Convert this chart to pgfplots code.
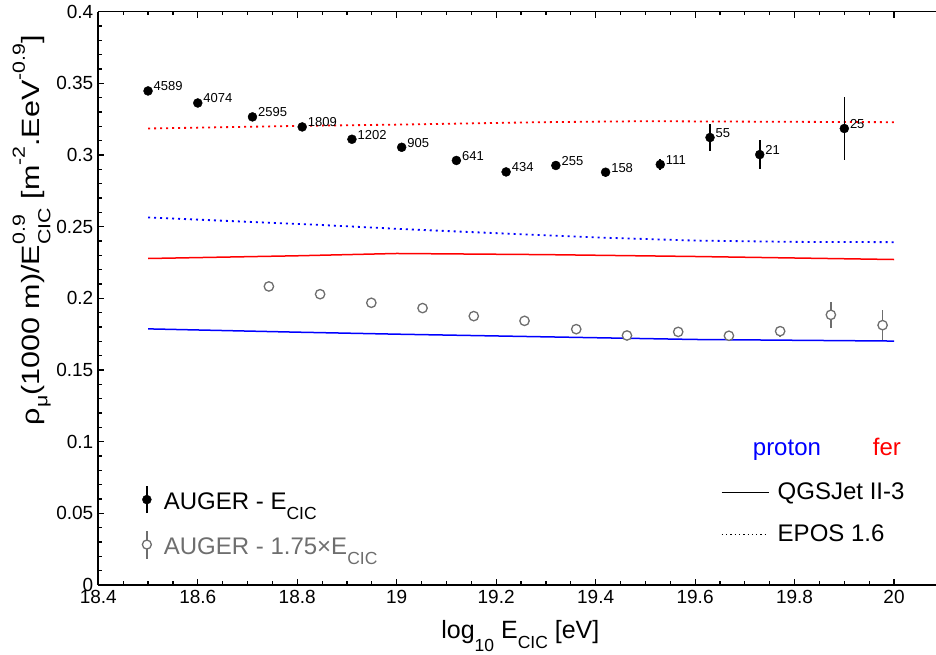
\documentclass[border=0pt]{standalone}
\usepackage{pgfplots}
\pgfplotsset{compat=1.18}
\usepackage{fontspec}
\setmainfont{Liberation Sans}
\definecolor{rblue}{rgb}{0,0,1}
\definecolor{rred}{rgb}{1,0,0}
\definecolor{agrey}{rgb}{0.43,0.43,0.43}
\newcommand{\rsub}[2][0.42em]{\raisebox{-#1}{\fontsize{17.5}{17.5}\selectfont #2}}
\newcommand{\rsup}[1]{\raisebox{0.6em}{\fontsize{17.5}{17.5}\selectfont #1}}
\newcommand{\rsupsub}[2]{\rlap{\rsup{#1}}\rsub{#2}}

\pgfplotstableread{
x y e n
18.50 0.3447 0.0012 4589
18.60 0.3363 0.0012 4074
18.71 0.3266 0.0014 2595
18.81 0.3196 0.0016 1809
18.91 0.3110 0.0018 1202
19.01 0.3054 0.0020 905
19.12 0.2962 0.0022 641
19.22 0.2882 0.0025 434
19.32 0.2927 0.0028 255
19.42 0.2880 0.0030 158
19.53 0.2934 0.0036 111
19.63 0.3122 0.0093 55
19.73 0.3003 0.0102 21
19.90 0.3185 0.0223 25
}\augerdata

\pgfplotstableread{
x y e
18.743 0.2083 0.0008
18.846 0.2029 0.0009
18.949 0.1969 0.0010
19.052 0.1932 0.0012
19.155 0.1876 0.0013
19.257 0.1843 0.0015
19.361 0.1785 0.0018
19.463 0.1741 0.0021
19.566 0.1766 0.0025
19.668 0.1739 0.0030
19.771 0.1771 0.0039
19.873 0.1885 0.0091
19.977 0.1813 0.0106
}\augerscaled

\begin{document}
\begin{tikzpicture}
\begin{axis}[
  at={(0pt,0pt)}, anchor=south west,
  scale only axis, width=838pt, height=573.3pt,
  xmin=18.4, xmax=20.085, ymin=0, ymax=0.4,
  axis x line=box, axis y line=left,
  axis line style={-, line width=1.6pt, black},
  tick align=inside,
  xtick={18.4,18.6,18.8,19,19.2,19.4,19.6,19.8,20},
  ytick={0,0.05,0.1,0.15,0.2,0.25,0.3,0.35,0.4},
  minor x tick num=3, minor y tick num=4,
  major tick length=6pt, minor tick length=3.5pt,
  every tick/.style={black, line width=1.2pt},
  scaled ticks=false,
  /pgf/number format/.cd, fixed, precision=2, assume math mode=true,
  /pgfplots/.cd,
  tick label style={font=\fontsize{19}{19}\selectfont, black},
  xticklabel style={yshift=-1.5pt},
  yticklabel style={xshift=-1.5pt},
  legend style={at={(0.0518,0.1739)}, anchor=north west, draw=none, fill=none,
    inner sep=0pt, outer sep=0pt, row sep=16pt, column sep=0pt,
    font=\fontsize{24}{24}\selectfont,
    nodes={inner sep=0pt, text height=20pt, text depth=0pt}},
  legend cell align=left,
]
% grey open points (1.75 x E_CIC)
\addplot[forget plot, only marks, mark=*, mark size=4.7pt, draw=agrey,
  mark options={draw=agrey, fill=white, line width=1.3pt},
  error bars/.cd, y dir=both, y explicit, error mark=none,
  error bar style={agrey, line width=1.3pt}]
  table[x=x, y=y, y error=e] {\augerscaled};

% model curves
\addplot[forget plot, rblue, line width=1.5pt] coordinates {
(18.5,0.1787) (18.8,0.1764) (19.0,0.1750) (19.29,0.1732) (19.6,0.1713) (20.0,0.1702)};
\addplot[forget plot, rred, line width=1.5pt] coordinates {
(18.5,0.2278) (18.8,0.2297) (19.0,0.2313) (19.3,0.2305) (19.6,0.2292) (20.0,0.2271)};
\addplot[forget plot, rblue, line width=1.8pt, dash pattern=on 2pt off 4pt] coordinates {
(18.5,0.2564) (18.83,0.2515) (19.03,0.2480) (19.2,0.2455) (19.4,0.2425) (19.6,0.2403) (19.8,0.2394) (20.0,0.2392)};
\addplot[forget plot, rred, line width=1.8pt, dash pattern=on 2pt off 4pt] coordinates {
(18.5,0.3185) (18.8,0.3203) (19.0,0.3212) (19.29,0.3229) (19.5,0.3236) (19.7,0.3233) (20.0,0.3229)};

% black points (E_CIC)
\addplot[forget plot, only marks, mark=*, mark size=4.5pt, black,
  point meta=explicit symbolic,
  nodes near coords,
  every node near coord/.append style={anchor=base west, inner sep=0pt, xshift=5.5pt, yshift=0pt,
     font=\fontsize{13}{13}\selectfont, black},
  error bars/.cd, y dir=both, y explicit, error mark=none,
  error bar style={black, line width=1.6pt}]
  table[x=x, y=y, y error=e, meta=n] {\augerdata};

\addlegendimage{legend image code/.code={
  \path[draw=none, fill=none] (-5pt,-14pt) rectangle (17pt,14pt);
  \draw[black, line width=1.6pt] (0pt,-13.5pt) -- (0pt,13.5pt);
  \fill[black] (0pt,0pt) circle (4.5pt);}}
\addlegendentry{AUGER - E\rsub{CIC}}
\addlegendimage{legend image code/.code={
  \path[draw=none, fill=none] (-5pt,-14pt) rectangle (17pt,14pt);
  \draw[agrey, line width=1.3pt] (0pt,-14pt) -- (0pt,14pt);
  \draw[agrey, fill=white, line width=1.3pt] (0pt,0pt) circle (4.5pt);}}
\addlegendentry{\textcolor{agrey}{AUGER - 1.75×E\rsub{CIC}}}
\end{axis}

\begin{axis}[
  at={(0pt,0pt)}, anchor=south west,
  scale only axis, width=838pt, height=573.3pt,
  xmin=18.4, xmax=20.085, ymin=0, ymax=0.4,
  hide axis,
  legend style={at={(0.7431,0.1861)}, anchor=north west, draw=none, fill=none,
    inner sep=0pt, outer sep=0pt, row sep=14pt, column sep=0pt,
    font=\fontsize{24}{24}\selectfont,
    nodes={inner sep=0pt, text height=14pt, text depth=0pt}},
  legend cell align=left,
]
\addlegendimage{legend image code/.code={
  \path[draw=none, fill=none] (0pt,-14pt) rectangle (56pt,14pt);
  \draw[black, line width=1.4pt] (0pt,0pt) -- (47pt,0pt);}}
\addlegendentry{QGSJet II-3}
\addlegendimage{legend image code/.code={
  \path[draw=none, fill=none] (0pt,-14pt) rectangle (56pt,14pt);
  \draw[black, line width=1.2pt, dash pattern=on 1.3pt off 3pt] (0pt,0pt) -- (47pt,0pt);}}
\addlegendentry{EPOS 1.6}
\end{axis}

\node[anchor=base west, font=\fontsize{24}{24}\selectfont, text=rblue, inner sep=0pt] at (654.4pt,129pt) {proton};
\node[anchor=base west, font=\fontsize{24}{24}\selectfont, text=rred, inner sep=0pt] at (774.4pt,129pt) {fer};

\node[anchor=base, font=\fontsize{25}{25}\selectfont, inner sep=0pt] at (422pt,-53.3pt)
  {log\rsub[0.52em]{10} E\rsub{CIC} [eV]};
\node[anchor=base east, rotate=90, font=\fontsize{25}{25}\selectfont, inner sep=0pt] at (-58.3pt,550pt)
  {\scalebox{1.22}[1]{ρ\rsub[0.3em]{μ}(1000 m)/E\rsupsub{0.9}{CIC} [m\rsup{-2}.EeV\rsup{-0.9}]}};

\pgfresetboundingbox
\path[use as bounding box] (-98.3pt,-70pt) rectangle (837.7pt,585pt);
\end{tikzpicture}
\end{document}
